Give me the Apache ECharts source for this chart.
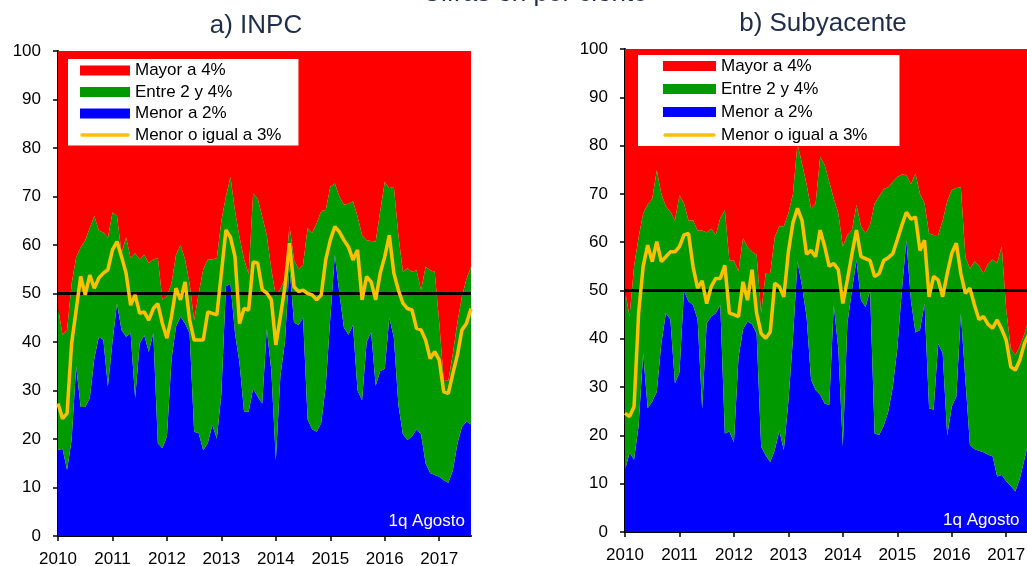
<!DOCTYPE html>
<html><head><meta charset="utf-8">
<script src="https://cdn.jsdelivr.net/npm/echarts@6/dist/echarts.min.js"></script>
<style>html,body{margin:0;padding:0;background:#fff}#c{width:1027px;height:566px}</style>
</head><body><div id="c"></div>
<script>
// Monthly categories Jan 2010 .. Aug 2017 (last = 1q Agosto)
const months = [];
for (let y = 2010; y <= 2017; y++) for (let m = 1; m <= 12; m++) { if (y === 2017 && m > 8) break; months.push(y + '-' + String(m).padStart(2, '0')); }

// Panel a) INPC
const inpcMenor2 = [17.7,18,13.6,19.8,35,26.6,26.6,28.4,36.6,41.1,40.4,30.8,40,48,42.5,41.1,41.8,28.4,39.7,41.4,38,41.8,19.1,18.1,20.5,36.3,43.2,45.2,43.8,41.8,21.5,21.2,17.7,19.1,22.9,20.1,29.4,51.5,52,41.8,35.6,25.6,25.6,30.4,28.7,27.3,42.8,34.2,15.6,33,40,55.5,44,43.5,45,24,22,21.5,23.3,31,45,58,50,43,41.5,43.5,30,28,40,42,31,34,34.5,45,41,27,21,19.8,20.5,22,21,15,13,12.6,12.2,11.5,11,13.5,19,22.5,23.6,23];
const inpcMenor4 = [47,41.5,42.5,52,57.5,59.5,61,63.5,66,63,62.6,61.5,66.7,66,58.3,61.6,57.3,58.3,57,58,56.3,57,57.3,48.7,49.5,52,58,60,57,52,44.5,50,55,57,57,57.3,65,70,74,67,61.6,57,54,70.6,69.6,65.8,62,55,49.5,51,53,64,57,55,56,63.5,62.5,64.5,67,67.2,72,72.7,70,68.3,68.5,69,65.9,62,61,60.8,60.7,67,73,71.7,72,62,54.5,55.2,54.5,54.8,50.7,55.5,54.8,54.5,44,32,32,37.6,44,49.4,53,55.5];
const inpcMenor3 = [27.3,24.2,25.3,39.7,46.6,53.5,49.7,53.8,51.1,53.2,54.2,54.9,59,60.7,57.6,54.2,47.6,49.7,45.9,46.2,44.5,46.9,47.9,43.8,40.8,45.2,51.1,48.7,52.4,44.5,40.4,40.4,40.4,46.2,45.9,45.6,54.2,63.1,61.6,57.6,43.8,46.9,46.6,56.5,56.3,50.8,50.1,48.7,39.4,45.2,51.4,60.4,51.4,50.4,50.7,50,49.7,48.7,49.7,57,61,63.8,62.7,61,59.6,56.9,59,48.7,53.5,52.4,48.7,54.2,57.6,62,54.2,50.7,48,46.9,46.6,42.8,42.5,40.4,36.6,38,36.3,29.7,29.4,33.5,37.3,42.5,43.8,46.9];

// Panel b) Subyacente
const subMenor2 = [12.8,16.4,15,22,37,25.6,27,29,39,45.3,44,30.8,33,49.9,47.7,47,44,25.5,43.2,44.6,45.3,47,20.4,20.8,18.6,36,42,43.6,43,41.1,17.7,15.9,14.5,17,21,17,27,40,56,51,44.6,31.5,29.4,28.4,26.6,26.3,47,38,17.7,43.2,50,56.3,48,46.6,50,20.4,20.1,22,24.9,30,38,50,60.4,48,41.3,41.8,47.3,25.6,25.3,39,37,20,26,28,45.3,31.5,18,17.2,16.8,16.5,16,15.7,11.5,11.8,10.5,9.5,8.4,11,15,19,22,22];
const subMenor4 = [50,44.6,55,61,66,67.8,69,74.9,70,67.5,66.3,64.5,69.7,68,64.5,64.5,62.4,62.4,62,62.8,61.5,65,66.6,56.2,56.2,54,60.8,59,58,57.4,45.3,53.6,53.6,61.1,63.3,63.3,66,70,80.4,76.3,72,67,68,77.7,76,72.5,69,66,59.1,61.5,62.5,67.7,63.3,61.8,63.6,68,69.5,71,71.4,72.5,73.5,74,73.9,72,74.2,70,68,61.8,61.5,61.5,64.5,68.5,70.8,71.2,71.4,57,54.5,56,55.2,53.5,55.5,56.4,55.7,59.1,46,38,36.6,38.5,41,44,47,50];
const subMenor3 = [24.6,23.9,26,45.3,55,59.4,56,60.1,56,57,58,58,59.1,61.5,61.8,54.9,50.5,52,47.3,50.8,52.5,52.5,55.2,45.3,45,44.6,51.8,48,54.3,45.3,41.1,40.1,41.4,51.5,50.8,48.7,58,64,67,64.5,57.5,58.3,57,62.5,59.1,55,55.6,54.3,47.3,52.2,57.5,62.5,57,56.6,56.2,52.9,53.5,56.2,56.8,57.6,60.5,63.5,66.2,64.8,65.2,58.3,60.4,48.7,52.9,52.2,48.7,53.5,57.7,59.8,53.5,49.4,50.5,47,44,44.6,43,42.2,43.9,42,39.7,34.2,33.5,35.6,39,41,43,45];

const yTicks = [0,10,20,30,40,50,60,70,80,90,100];
const FONT = '"Liberation Sans", Arial, sans-serif';
const C = { red:'#FF0000', green:'#009900', blue:'#0000FF', yellow:'#FFC000', title:'#1F2D4A' };

function r1(v){ return Math.round(v*10)/10; }

function axesFor(idx){
  return {
    x: {
      type:'category', gridIndex:idx, data:months, boundaryGap:false,
      axisLine:{ lineStyle:{ color:'#000', width:2 } },
      axisTick:{ interval:(i)=> i % 12 === 0, length:5, lineStyle:{ color:'#000', width:1.5 } },
      axisLabel:{ interval:(i)=> i % 12 === 0, formatter:(v)=> v.slice(0,4), color:'#000', fontSize:17, fontFamily:FONT, margin:15 },
      splitLine:{ show:false }
    },
    y: {
      type:'value', gridIndex:idx, min:yTicks[0], max:yTicks[yTicks.length-1], interval:10,
      axisLine:{ show:true, lineStyle:{ color:'#000', width:2 } },
      axisTick:{ show:true, length:5, lineStyle:{ color:'#000', width:1.5 } },
      axisLabel:{ color:'#000', fontSize:17, fontFamily:FONT, margin:17 },
      splitLine:{ show:false }
    }
  };
}

function seriesFor(idx, menor2, menor4, menor3){
  const entre = menor4.map((v,i)=> r1(Math.max(0, v - menor2[i])));
  const mayor = menor4.map(v => r1(100 - v));
  const area = (name, data, color, extra) => Object.assign({
    name, type:'line', xAxisIndex:idx, yAxisIndex:idx, stack:'s'+idx, data,
    symbol:'none', lineStyle:{ width:0, color }, itemStyle:{ color },
    areaStyle:{ color, opacity:1 }, z:2, silent:true
  }, extra || {});
  return [
    area('Menor a 2%', menor2, C.blue),
    area('Entre 2 y 4%', entre, C.green),
    area('Mayor a 4%', mayor, C.red, {
      markLine:{ silent:true, symbol:['none','none'], label:{ show:false },
        lineStyle:{ color:'#000', width:3, type:'solid' }, data:[{ yAxis:50 }] }
    }),
    { name:'Menor o igual a 3%', type:'line', xAxisIndex:idx, yAxisIndex:idx, data:menor3,
      symbol:'none', lineStyle:{ width:3.5, color:C.yellow }, itemStyle:{ color:C.yellow }, z:5, silent:true }
  ];
}

const a = axesFor(0), b = axesFor(1);
const lineIcon = 'path://M0,0 M50,10 M2,3.3 L48,3.3 A1.7,1.7 0 0 1 48,6.7 L2,6.7 A1.7,1.7 0 0 1 2,3.3 Z';
const legendData = [
  { name:'Mayor a 4%', icon:'rect' },
  { name:'Entre 2 y 4%', icon:'rect' },
  { name:'Menor a 2%', icon:'rect' },
  { name:'Menor o igual a 3%', icon:lineIcon }
];
const txt = (text, x, y, size, color, align) => ({
  type:'text', x, y, z:100, silent:true,
  style:{ text, fill:color, font: size + 'px ' + FONT, align:align, verticalAlign:'middle', textAlign:align, textVerticalAlign:'middle' }
});

const option = {
  animation:false,
  backgroundColor:'#fff',
  grid:[
    { left:58, top:51, width:413, height:485, containLabel:false, outerBoundsMode:'none' },
    { left:625, top:49, width:413, height:483, containLabel:false, outerBoundsMode:'none' }
  ],
  xAxis:[a.x, b.x],
  yAxis:[a.y, b.y],
  legend:[
    { left:68, top:59, orient:'vertical', itemWidth:50, itemHeight:10, itemGap:4.5,
      padding:[3,17,2,12], backgroundColor:'#fff', selectedMode:false, symbolKeepAspect:false,
      textStyle:{ color:'#000', fontSize:17, fontFamily:FONT }, data:legendData },
    { left:638, top:55, orient:'vertical', itemWidth:53, itemHeight:10, itemGap:6,
      padding:[2.5,32,2.5,25], backgroundColor:'#fff', selectedMode:false, symbolKeepAspect:false,
      textStyle:{ color:'#000', fontSize:17, fontFamily:FONT }, data:legendData }
  ],
  graphic:[
    txt('Cifras en por ciento', 535, -6, 26, C.title, 'center'),
    txt('a) INPC', 256, 26, 26, C.title, 'center'),
    txt('b) Subyacente', 823, 24, 26, C.title, 'center'),
    txt('1q Agosto', 465, 521, 17, '#fff', 'right'),
    txt('1q Agosto', 943, 520, 17, '#fff', 'left')
  ],
  series:[].concat(seriesFor(0, inpcMenor2, inpcMenor4, inpcMenor3), seriesFor(1, subMenor2, subMenor4, subMenor3))
};
echarts.init(document.getElementById('c'), null, { renderer:'canvas' }).setOption(option);
</script>
</body></html>
